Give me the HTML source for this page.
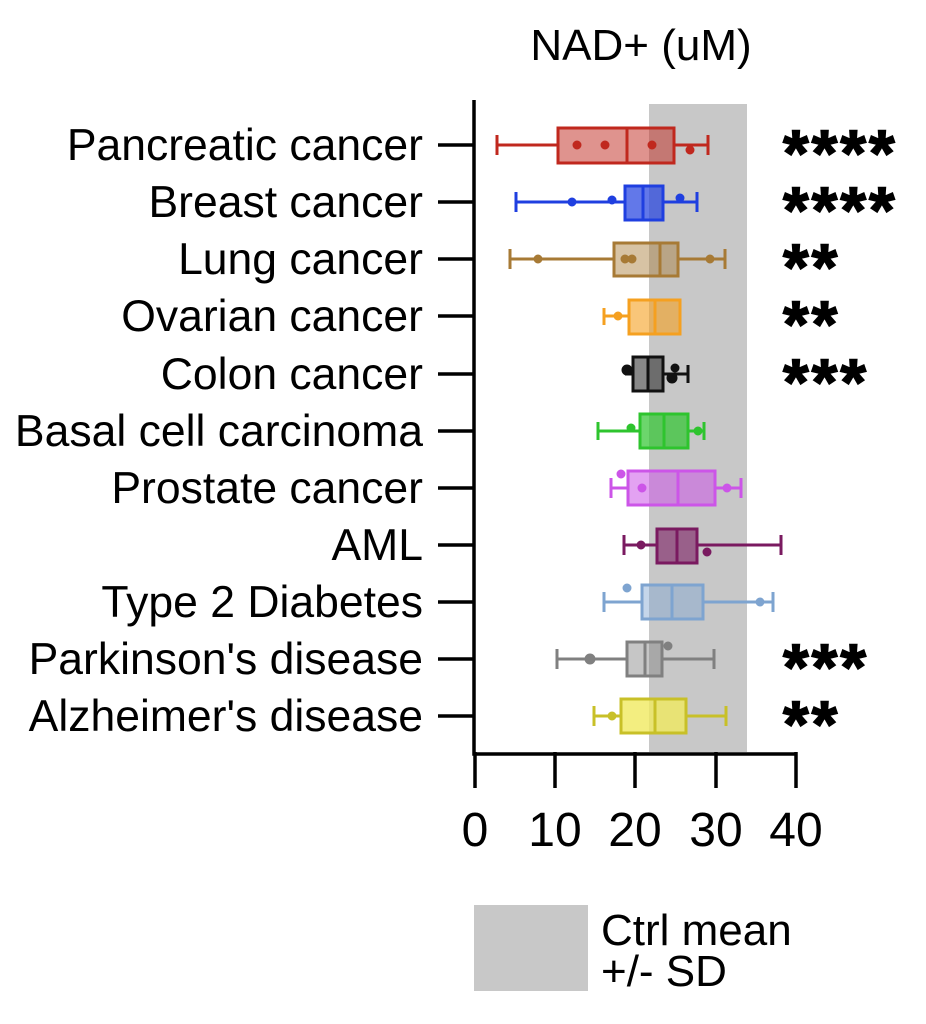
<!DOCTYPE html><html><head><style>body{margin:0;background:#fff}svg{display:block}text{font-family:"Liberation Sans",sans-serif}</style></head><body>
<svg width="926" height="1024" xmlns="http://www.w3.org/2000/svg">
<text x="641" y="60" font-size="44" text-anchor="middle">NAD+ (uM)</text>
<rect x="649" y="104" width="98" height="648" fill="#c8c8c8"/>
<g font-size="44.5" text-anchor="end">
<text x="423" y="160">Pancreatic cancer</text>
<text x="423" y="217">Breast cancer</text>
<text x="423" y="274">Lung cancer</text>
<text x="423" y="331">Ovarian cancer</text>
<text x="423" y="389">Colon cancer</text>
<text x="423" y="446">Basal cell carcinoma</text>
<text x="423" y="503">Prostate cancer</text>
<text x="423" y="560">AML</text>
<text x="423" y="617">Type 2 Diabetes</text>
<text x="423" y="674">Parkinson's disease</text>
<text x="423" y="731">Alzheimer's disease</text>
</g>
<g stroke="#000" stroke-width="3.5" fill="none">
<path d="M474 100V754H797"/>
<path d="M438 145H474M438 202H474M438 259H474M438 316H474M438 374H474M438 431H474M438 488H474M438 545H474M438 602H474M438 659H474M438 716H474"/>
<path d="M475 752V788M555 752V788M635 752V788M716 752V788M796 752V788"/>
</g>
<g font-size="48" text-anchor="middle">
<text x="475" y="846">0</text><text x="555" y="846">10</text><text x="635" y="846">20</text><text x="716" y="846">30</text><text x="796" y="846">40</text>
</g>
<g stroke-width="3">
<g stroke="#c0281e" fill="#c0281e"><path d="M497 145H558M674 145H708M497 135V155M708 135V155" fill="none"/><rect x="558" y="128" width="116" height="35" fill-opacity="0.5"/><path d="M627 128V163"/><circle cx="577" cy="145" r="3"/><circle cx="605" cy="145" r="3"/><circle cx="690" cy="150" r="3"/><circle cx="652" cy="145" r="3"/></g>
<g stroke="#1f3fe0" fill="#1f3fe0"><path d="M516 202H625M663 202H697M516 192V212M697 192V212" fill="none"/><rect x="625" y="186" width="38" height="34" fill-opacity="0.7"/><path d="M643 186V220"/><circle cx="572" cy="202" r="3"/><circle cx="612" cy="200" r="3"/><circle cx="680" cy="198" r="3"/></g>
<g stroke="#a77a35" fill="#a77a35"><path d="M510 259H614M678 259H725M510 249V269M725 249V269" fill="none"/><rect x="614" y="243" width="64" height="33" fill-opacity="0.45"/><path d="M660 243V276"/><circle cx="538" cy="259" r="3"/><circle cx="625" cy="259" r="3"/><circle cx="632" cy="259" r="3"/><circle cx="710" cy="259" r="3"/></g>
<g stroke="#f5a020" fill="#f5a020"><path d="M604 316H629M604 308V325" fill="none"/><rect x="629" y="300" width="51" height="34" fill-opacity="0.6"/><path d="M655 300V334"/><circle cx="618" cy="316" r="3"/></g>
<g stroke="#111" fill="#111"><path d="M625 374H633M663 374H688M688 365V383" fill="none"/><rect x="633" y="357" width="30" height="34" fill-opacity="0.5"/><path d="M648 357V391"/><circle cx="627" cy="370" r="4"/><circle cx="672" cy="378" r="4"/><circle cx="675" cy="368" r="3"/></g>
<g stroke="#2ec42e" fill="#2ec42e"><path d="M598 431H640M688 431H704M598 422V440M704 422V440" fill="none"/><rect x="640" y="414" width="48" height="34" fill-opacity="0.7"/><path d="M664 414V448"/><circle cx="631" cy="428" r="3"/><circle cx="698" cy="431" r="3"/></g>
<g stroke="#cc55e8" fill="#cc55e8"><path d="M611 488H628M715 488H741M611 478V498M741 478V498" fill="none"/><rect x="628" y="471" width="87" height="34" fill-opacity="0.55"/><path d="M678 471V505"/><circle cx="621" cy="474" r="3"/><circle cx="642" cy="488" r="3"/><circle cx="727" cy="488" r="3"/></g>
<g stroke="#7a1a60" fill="#7a1a60"><path d="M624 545H657M697 545H781M624 535V555M781 535V555" fill="none"/><rect x="657" y="529" width="40" height="34" fill-opacity="0.6"/><path d="M677 529V563"/><circle cx="641" cy="545" r="3"/><circle cx="707" cy="552" r="3"/></g>
<g stroke="#7ea4d0" fill="#7ea4d0"><path d="M604 602H642M703 602H773M604 592V612M773 592V612" fill="none"/><rect x="642" y="585" width="61" height="34" fill-opacity="0.45"/><path d="M672 585V619"/><circle cx="627" cy="588" r="3"/><circle cx="760" cy="602" r="3"/></g>
<g stroke="#808080" fill="#808080"><path d="M557 659H627M662 659H714M557 649V669M714 649V669" fill="none"/><rect x="627" y="642" width="35" height="34" fill-opacity="0.45"/><path d="M645 642V676"/><circle cx="590" cy="659" r="4"/><circle cx="668" cy="646" r="3"/></g>
<g stroke="#c8c028" fill="#c8c028"><path d="M594 716H621M686 716H726M594 706V726M726 706V726" fill="none"/><rect x="621" y="699" width="65" height="34" fill="#f0ea60" fill-opacity="0.8"/><path d="M655 699V733"/><circle cx="612" cy="716" r="3"/></g>
</g>
<g font-size="66" font-weight="bold" stroke="#000" stroke-width="1.5" letter-spacing="3" text-anchor="start">
<text x="783" y="176">****</text><text x="783" y="233">****</text><text x="783" y="290">**</text><text x="783" y="347">**</text><text x="783" y="405">***</text><text x="783" y="690">***</text><text x="783" y="747">**</text>
</g>
<rect x="474" y="905" width="114" height="86" fill="#c8c8c8"/>
<text x="601" y="945" font-size="44">Ctrl mean</text>
<text x="601" y="986" font-size="44">+/- SD</text>
</svg></body></html>
